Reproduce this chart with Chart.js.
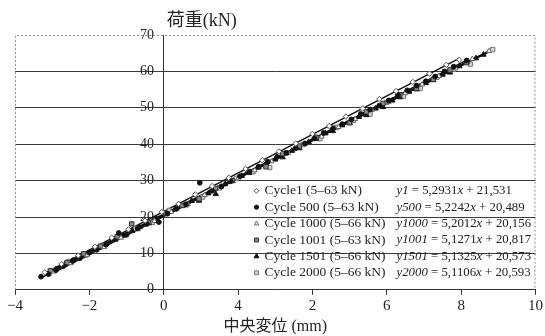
<!DOCTYPE html>
<html>
<head>
<meta charset="utf-8">
<script src="https://cdn.jsdelivr.net/npm/chart.js@4.4.0/dist/chart.umd.min.js"></script>
<style>
html, body { margin: 0; padding: 0; background: #fff; }
#wrap { width: 545px; height: 336px; position: relative; }
</style>
</head>
<body>
<div id="wrap"><canvas id="loadChart"></canvas></div>
<script>
const FONT = "'Liberation Serif', 'Noto Sans CJK JP', serif";

// axis labels as printed (the "4" and "2" are swapped in the original figure)
const X_TICK_LABELS = ['−4', '−2', '0', '4', '2', '6', '8', '10'];
const Y_TITLE = '荷重(kN)';
const X_TITLE = '中央変位 (mm)';

// legend rows
const SERIES_NAMES = [
    'Cycle1 (5–63 kN)',
    'Cycle 500 (5–63 kN)',
    'Cycle 1000 (5–66 kN)',
    'Cycle 1001 (5–63 kN)',
    'Cycle 1501 (5–66 kN)',
    'Cycle 2000 (5–66 kN)'
];
const EQ_NAMES = ['y1', 'y500', 'y1000', 'y1001', 'y1501', 'y2000'];
const SLOPES = [5.2931, 5.2242, 5.2012, 5.1271, 5.1325, 5.1106];
const INTERCEPTS = [21.531, 20.489, 20.156, 20.817, 20.573, 20.593];

// measured points [mid deflection mm, load kN]
const cycle1 = [[-3.2,4.8],[-2.75,7.1],[-2.3,9.4],[-1.85,11.8],[-1.4,14.3],[-0.95,16.6],[-0.5,19.0],[-0.05,21.4],[0.4,23.6],[0.85,26.2],[1.3,28.5],[1.75,30.8],[2.2,33.2],[2.65,35.6],[3.1,38.0],[3.55,40.2],[4.0,42.8],[4.45,45.0],[4.9,47.6],[5.35,49.8],[5.8,52.4],[6.25,54.6],[6.7,57.1],[7.15,59.4],[7.6,61.8],[7.95,63.2]];
const cycle500 = [[-3.3,3.6],[-2.9,5.4],[-2.45,7.9],[-2.0,10.2],[-1.55,12.4],[-1.21,15.6],[-0.7,16.9],[-0.13,18.6],[0.35,22.3],[0.97,29.4],[1.3,27.2],[1.8,29.8],[2.3,32.4],[2.8,35.2],[3.3,37.6],[3.8,40.2],[4.3,43.1],[4.8,45.5],[5.3,48.3],[5.8,50.6],[6.3,53.5],[6.8,56.1],[7.3,58.6],[7.8,61.3],[8.15,63.0],
    [-3.1,4.3],[-2.7,6.5],[-2.25,8.7],[-1.8,11.0],[-1.0,15.1],[-0.45,18.1],[0.1,20.9],[0.6,23.5],[1.55,28.4],[2.05,31.2],[2.55,33.8],[3.05,36.5],[3.55,38.9],[4.05,41.6],[4.55,44.3],[5.05,46.8],[5.55,49.5],[6.05,52.0],[6.55,54.8],[7.05,57.3],[7.55,60.0]];
const cycle1000 = [[-2.95,5.0],[-2.5,7.3],[-2.05,9.6],[-1.6,11.7],[-1.15,14.3],[-0.7,16.6],[-0.25,18.9],[0.2,21.4],[0.65,23.5],[1.1,26.0],[1.55,28.3],[2.0,30.6],[2.45,32.8],[2.9,35.3],[3.35,37.6],[3.8,40.0],[4.25,42.1],[4.7,44.7],[5.15,46.9],[5.6,49.4],[6.05,51.6],[6.5,54.0],[6.95,56.4],[7.4,58.7],[7.85,60.8],[8.3,63.4],[8.75,65.6]];
const cycle1001 = [[-3.05,5.2],[-2.6,7.5],[-2.15,9.9],[-1.7,12.0],[-1.25,14.6],[-0.86,18.1],[-0.4,18.5],[0.05,21.0],[0.5,23.2],[0.95,25.0],[1.4,27.9],[1.85,30.0],[2.3,32.5],[2.75,33.8],[3.2,37.4],[3.65,39.5],[4.1,41.9],[4.55,44.4],[5.0,45.9],[5.45,48.9],[5.9,51.2],[6.35,53.6],[6.8,55.3],[7.25,57.8],[7.7,60.4],[8.15,62.4]];
const cycle1501 = [[-3.1,4.4],[-2.65,7.0],[-2.2,9.2],[-1.75,11.5],[-1.3,13.8],[-0.85,16.2],[-0.4,18.3],[0.05,20.9],[0.5,23.0],[0.95,24.5],[1.4,26.3],[1.85,29.9],[2.3,32.1],[2.75,34.6],[3.2,36.4],[3.65,38.9],[4.1,41.5],[4.55,43.6],[5.0,45.8],[5.45,48.0],[5.9,50.2],[6.35,52.9],[6.8,55.1],[7.25,57.6],[7.7,59.7],[8.15,62.6],[8.6,64.6],
    [-2.9,5.6],[-2.45,8.0],[-2.0,10.3],[-1.55,12.6],[-1.1,14.9],[-0.65,17.2],[-0.2,19.6],[0.3,22.1],[0.75,24.4],[1.2,26.5],[1.65,29.0],[2.1,31.3],[2.55,33.6],[3.0,35.8],[3.45,38.2],[3.9,40.6],[4.35,43.0],[4.8,45.2],[5.25,47.5],[5.7,49.8],[6.15,52.0],[6.6,54.4],[7.05,56.8],[7.5,59.1],[7.95,61.4],[8.4,63.6]];
const cycle2000 = [[-3.0,5.3],[-2.55,7.8],[-2.1,9.5],[-1.65,12.2],[-1.2,14.8],[-0.75,16.9],[-0.3,18.5],[0.15,21.8],[0.6,23.3],[1.05,25.5],[1.5,28.0],[1.95,30.6],[2.4,32.4],[2.85,33.6],[3.3,37.6],[3.75,39.9],[4.2,41.5],[4.65,44.6],[5.1,46.5],[5.55,48.3],[6.0,51.5],[6.45,53.2],[6.9,55.3],[7.35,58.4],[7.8,60.6],[8.25,62.0],[8.85,66.0]];

const ALL_POINTS = [cycle1, cycle500, cycle1000, cycle1001, cycle1501, cycle2000];

// marker look per series
const MARKERS = [
    { pointStyle: 'rectRot',  radius: 2.7, fill: '#fff',    stroke: '#555' },
    { pointStyle: 'circle',   radius: 2.4, fill: '#111',    stroke: '#111' },
    { pointStyle: 'triangle', radius: 2.9, fill: '#fff',    stroke: '#666' },
    { pointStyle: 'rect',     radius: 3.1, fill: '#888',    stroke: '#333' },
    { pointStyle: 'triangle', radius: 3.1, fill: '#111',    stroke: '#111' },
    { pointStyle: 'rect',     radius: 3.1, fill: '#d4d4d4', stroke: '#777' }
];

const datasets = [];

// scatter points
ALL_POINTS.forEach((pts, i) => {
    datasets.push({
        type: 'scatter',
        label: SERIES_NAMES[i],
        data: pts.map(p => ({ x: p[0], y: p[1] })),
        pointStyle: MARKERS[i].pointStyle,
        pointRadius: MARKERS[i].radius,
        pointBackgroundColor: MARKERS[i].fill,
        pointBorderColor: MARKERS[i].stroke,
        pointBorderWidth: 1,
        showLine: false
    });
});

// linear trend lines from the printed equations, over each series' x range
ALL_POINTS.forEach((pts, i) => {
    const xs = pts.map(p => p[0]);
    const x0 = Math.min(...xs);
    const x1 = Math.max(...xs);
    datasets.push({
        type: 'line',
        label: EQ_NAMES[i],
        data: [
            { x: x0, y: SLOPES[i] * x0 + INTERCEPTS[i] },
            { x: x1, y: SLOPES[i] * x1 + INTERCEPTS[i] }
        ],
        borderColor: '#111',
        borderWidth: 1.4,
        pointRadius: 0,
        fill: false
    });
});

// dashed plot frame (left, top, right)
const framePlugin = {
    id: 'frame',
    beforeDatasetsDraw(chart) {
        const { ctx, chartArea: a } = chart;
        ctx.save();
        ctx.strokeStyle = '#8a8a8a';
        ctx.lineWidth = 1;
        ctx.setLineDash([2, 2]);
        ctx.beginPath();
        ctx.moveTo(a.left + 0.5, a.bottom);
        ctx.lineTo(a.left + 0.5, a.top + 0.5);
        ctx.lineTo(a.right - 0.5, a.top + 0.5);
        ctx.lineTo(a.right - 0.5, a.bottom);
        ctx.stroke();
        ctx.restore();
    }
};

// y axis title sitting above the axis line at x = 0
const yTitlePlugin = {
    id: 'yTitle',
    afterDraw(chart) {
        const { ctx, chartArea } = chart;
        const x = chart.scales.x.getPixelForValue(0) + 3;
        ctx.save();
        ctx.font = '18px ' + FONT;
        ctx.fillStyle = '#222';
        ctx.textAlign = 'left';
        ctx.textBaseline = 'middle';
        ctx.fillText(Y_TITLE, x, chartArea.top - 14);
        ctx.restore();
    }
};

// legend with markers, names and equations in two columns
const eqLegendPlugin = {
    id: 'eqLegend',
    afterDraw(chart) {
        const { ctx, chartArea } = chart;
        const markX = chartArea.right - 279;
        const nameX = chartArea.right - 271;
        const eqX = chartArea.right - 139;
        ctx.save();
        ctx.textBaseline = 'middle';
        ctx.textAlign = 'left';
        SERIES_NAMES.forEach((name, i) => {
            const y = chartArea.bottom - 99 + i * 16.4;
            const m = MARKERS[i];
            ctx.fillStyle = m.fill;
            ctx.strokeStyle = m.stroke;
            ctx.lineWidth = 1;
            Chart.helpers.drawPoint(ctx, { pointStyle: m.pointStyle, radius: m.radius - 0.3, borderWidth: 1, rotation: 0 }, markX, y);

            ctx.fillStyle = '#222';
            ctx.font = '13.5px ' + FONT;
            ctx.fillText(name, nameX, y);

            // equation: y-name and x in italics
            const parts = [
                [EQ_NAMES[i], true],
                [' = ' + String(SLOPES[i]).replace('.', ','), false],
                ['x', true],
                [' + ' + String(INTERCEPTS[i]).replace('.', ','), false]
            ];
            let x = eqX;
            parts.forEach(([txt, italic]) => {
                ctx.font = (italic ? 'italic ' : '') + '12.8px ' + FONT;
                ctx.fillText(txt, x, y);
                x += ctx.measureText(txt).width;
            });
        });
        ctx.restore();
    }
};

new Chart(document.getElementById('loadChart'), {
    type: 'scatter',
    data: { datasets },
    options: {
        responsive: true,
        maintainAspectRatio: false,
        animation: false,
        layout: { padding: { left: 15, right: 8, top: 35, bottom: 0 } },
        plugins: {
            legend: { display: false },
            tooltip: { enabled: false }
        },
        scales: {
            x: {
                type: 'linear',
                min: -4,
                max: 10,
                ticks: {
                    stepSize: 2,
                    color: '#222',
                    padding: 2,
                    font: { family: FONT, size: 15 },
                    callback: (value, index) => X_TICK_LABELS[index]
                },
                grid: { drawOnChartArea: false, tickLength: 5, color: '#333' },
                border: { color: '#333', width: 1 },
                title: {
                    display: true,
                    text: X_TITLE,
                    color: '#222',
                    font: { family: FONT, size: 16 },
                    padding: { top: 0, bottom: 0 }
                }
            },
            y: {
                type: 'linear',
                position: { x: 0 },
                min: 0,
                max: 70,
                ticks: {
                    stepSize: 10,
                    color: '#222',
                    font: { family: FONT, size: 14 },
                    // labels sit right-aligned on the axis line; trailing spaces push them left of it
                    callback: value => value + '\u2002\u2009'
                },
                grid: {
                    color: ctx => (ctx.tick && (ctx.tick.value === 70 || ctx.tick.value === 0)) ? 'rgba(0,0,0,0)' : '#3a3a3a',
                    tickLength: 8
                },
                border: { color: '#333', width: 1 }
            }
        }
    },
    plugins: [framePlugin, yTitlePlugin, eqLegendPlugin]
});
</script>
</body>
</html>
